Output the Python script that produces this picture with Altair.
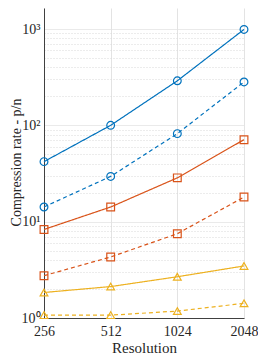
import altair as alt
import pandas as pd

resolution = [256, 512, 1024, 2048]
blue_solid = [42, 100, 290, 990]
blue_dashed = [14.2, 29.5, 82, 282]
orange_solid = [8.3, 14.2, 28.5, 71]
orange_dashed = [2.75, 4.3, 7.5, 18]
yellow_solid = [1.84, 2.12, 2.68, 3.47]
yellow_dashed = [1.07, 1.07, 1.18, 1.42]

series = [
    ("blue", "solid", blue_solid),
    ("blue", "dashed", blue_dashed),
    ("orange", "solid", orange_solid),
    ("orange", "dashed", orange_dashed),
    ("yellow", "solid", yellow_solid),
    ("yellow", "dashed", yellow_dashed),
]

groups = ["blue", "orange", "yellow"]
colors = ["#0072BD", "#D95319", "#EDB120"]
shapes = ["circle", "square", "triangle-up"]

y_ticks = [1, 2, 3, 4, 5, 6, 7, 8, 9,
           10, 20, 30, 40, 50, 60, 70, 80, 90,
           100, 200, 300, 400, 500, 600, 700, 800, 900, 1000]

rows = []
for g, v, vals in series:
    for r, val in zip(resolution, vals):
        rows.append({"group": g, "variant": v, "series": g + "-" + v,
                     "resolution": r, "rate": val})
df = pd.DataFrame(rows)

FONT = "Liberation Serif"
TXT = "#262626"

x_enc = alt.X(
    "resolution:Q",
    scale=alt.Scale(type="log", base=2, domain=[256, 2048]),
    axis=alt.Axis(
        values=resolution, format="d", title="Resolution",
        grid=True, gridColor="#e3e3e3", ticks=False,
        labelPadding=6, labelFont=FONT, labelFontSize=14, labelColor=TXT,
        titleFont=FONT, titleFontSize=15, titleFontWeight="normal", titleColor=TXT,
        titleY=34, titleBaseline="alphabetic",
        domainColor="#404040", labelFlush=False,
    ),
)

y_enc = alt.Y(
    "rate:Q",
    scale=alt.Scale(type="log", domain=[1, 1652]),
    axis=alt.Axis(
        values=y_ticks, title="Compression rate - p/n",
        labelExpr="datum.value == 1 ? '10⁰' : datum.value == 10 ? '10¹' : datum.value == 100 ? '10²' : datum.value == 1000 ? '10³' : ''",
        labelOverlap=False, labelFlush=False,
        grid=True,
        gridDash={"condition": {"test": "indexof([1,10,100,1000], datum.value) >= 0", "value": [1, 0]}, "value": [1, 2]},
        gridColor={"condition": {"test": "indexof([1,10,100,1000], datum.value) >= 0", "value": "#e3e3e3"}, "value": "#d8d8d8"},
        ticks=False, labelPadding=4,
        labelFont=FONT, labelFontSize=14, labelColor=TXT,
        titleFont=FONT, titleFontSize=14, titleFontWeight="normal", titleColor=TXT,
        titleX=-23.5, titleY=154, titleAngle=-90, titleBaseline="alphabetic", titleAlign="center",
        domainColor="#404040",
    ),
)

color_enc = alt.Color("group:N", scale=alt.Scale(domain=groups, range=colors), legend=None)

base = alt.Chart(df).encode(x=x_enc, y=y_enc, color=color_enc)

lines = base.mark_line(strokeWidth=1.2).encode(
    strokeDash=alt.StrokeDash("variant:N",
                              scale=alt.Scale(domain=["solid", "dashed"], range=[[1, 0], [4, 3]]),
                              legend=None),
    detail="series:N",
)

points = base.mark_point(filled=False, size=60, strokeWidth=1.2, opacity=1).encode(
    shape=alt.Shape("group:N", scale=alt.Scale(domain=groups, range=shapes), legend=None),
    detail="series:N",
)

chart = (lines + points).properties(
    width=200, height=310,
    autosize=alt.AutoSizeParams(type="none"),
    padding={"left": 36, "top": 0, "right": 14, "bottom": 36},
).configure_view(stroke=None)

chart.save("out.html", embed_options={"renderer": "svg", "actions": False})
